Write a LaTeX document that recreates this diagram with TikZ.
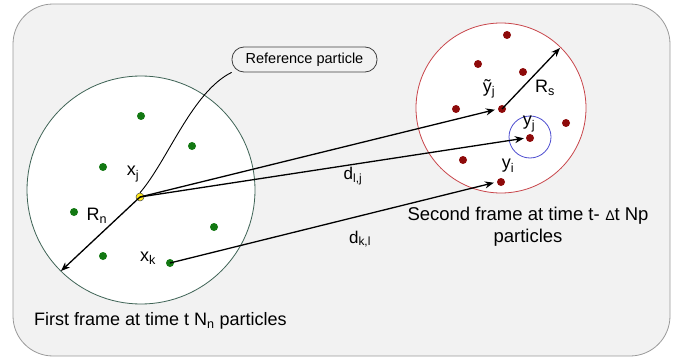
\documentclass[tikz,border=0pt]{standalone}
\usepackage{fontspec}
\setmainfont{Liberation Sans}
\usetikzlibrary{arrows.meta}
\definecolor{bgc}{HTML}{F2F2F2}
\definecolor{framec}{HTML}{9A9A9A}
\definecolor{leftc}{HTML}{3E6355}
\definecolor{rightc}{HTML}{C8454A}
\definecolor{bluec}{HTML}{4F4FD0}
\definecolor{greenc}{HTML}{127812}
\definecolor{redc}{HTML}{8E0A0A}
\definecolor{yellc}{HTML}{FFE81A}
\begin{document}
\begin{tikzpicture}[x=1pt,y=-1pt,
  font=\fontsize{18}{21}\selectfont,
  dotbase/.style={circle,inner sep=0pt,minimum size=8pt},
  gdot/.style={dotbase,fill=greenc},
  rdot/.style={dotbase,fill=redc},
  ydot/.style={dotbase,fill=yellc,draw=black!70,line width=0.5pt},
  lbl/.style={inner sep=0pt,font=\fontsize{18}{20}\selectfont},
  arr/.style={line width=1.3pt,-{Stealth[length=9pt,width=7pt]}},
  refbox/.style={draw=black!75,line width=0.8pt,fill=bgc,rounded corners=12pt,minimum width=145pt,minimum height=25pt,inner sep=0pt,font=\fontsize{14.5}{16}\selectfont}
]
\useasboundingbox (0,0) rectangle (681,361);
\draw[framec,line width=0.8pt,fill=bgc,rounded corners=40pt] (13,4) rectangle (670,356);

% frames
\draw[leftc,line width=0.8pt,fill=white] (141,190) circle [radius=114pt];
\draw[rightc,line width=0.8pt,fill=white] (501,108) circle [radius=85pt];
\draw[bluec,line width=0.8pt] (530,137) circle [radius=21pt];

% green particles
\node[gdot] (g1) at (141,116) {};
\node[gdot] (g2) at (192,146) {};
\node[gdot] (g3) at (103,167) {};
\node[gdot] (g4) at (74,212) {};
\node[gdot] (g5) at (214,227) {};
\node[gdot] (g6) at (103,256) {};
\node[gdot] (xk) at (170,263) {};
\node[ydot] (xj) at (140,197) {};

% red particles
\node[rdot] (r1) at (507,35) {};
\node[rdot] (r2) at (478,64) {};
\node[rdot] (r3) at (523,72) {};
\node[rdot] (r4) at (456,109) {};
\node[rdot] (ytj) at (502,109) {};
\node[rdot] (r5) at (566,123) {};
\node[rdot] (yj) at (530,138) {};
\node[rdot] (r6) at (463,160) {};
\node[rdot] (yi) at (501,182) {};

\coordinate (rnend) at (61,271);
\coordinate (rsend) at (560,48);

% reference callout
\node[refbox] (ref) at (304.5,59.5) {Reference particle};
\draw[line width=0.9pt] (xj.north) .. controls (168,160) and (192,92) .. (ref.south west);

% arrows
\draw[arr] (xj.center) -- (rnend);
\draw[arr] (ytj.center) -- (rsend);
\draw[arr,shorten >=3pt] (xj.center) -- (ytj.west);
\draw[arr,shorten >=2pt] (xj.center) -- (yj.west);
\draw[arr,shorten >=3pt] (xk.center) -- (yi.west);

% labels
\node[lbl] (lxj) at (133,174) {x\textsubscript{j}};
\node[lbl] (lxk) at (148,258) {x\textsubscript{k}};
\node[lbl] (lrn) at (97,216) {R\textsubscript{n}};
\node[lbl] (lrs) at (545,88) {R\textsubscript{s}};
\node[lbl] (lytj) at (489,89) {ỹ\textsubscript{j}};
\node[lbl] (lyj) at (529,124) {y\textsubscript{j}};
\node[lbl] (lyi) at (508,166) {y\textsubscript{i}};
\node[lbl,font=\fontsize{17}{19}\selectfont] (ldlj) at (353,176) {d\textsubscript{l,j}};
\node[lbl,font=\fontsize{17}{19}\selectfont] (ldkl) at (360,239) {d\textsubscript{k,l}};

\node[align=center,inner sep=0pt,font=\fontsize{18.5}{22}\selectfont] (second) at (528,227) {Second frame at time t-\,\,{\fontsize{14}{16}\selectfont ∆}t Np\\particles};
\node[anchor=west,inner sep=0pt] (first) at (34,321) {First frame at time t N\textsubscript{n} particles};
\end{tikzpicture}
\end{document}
